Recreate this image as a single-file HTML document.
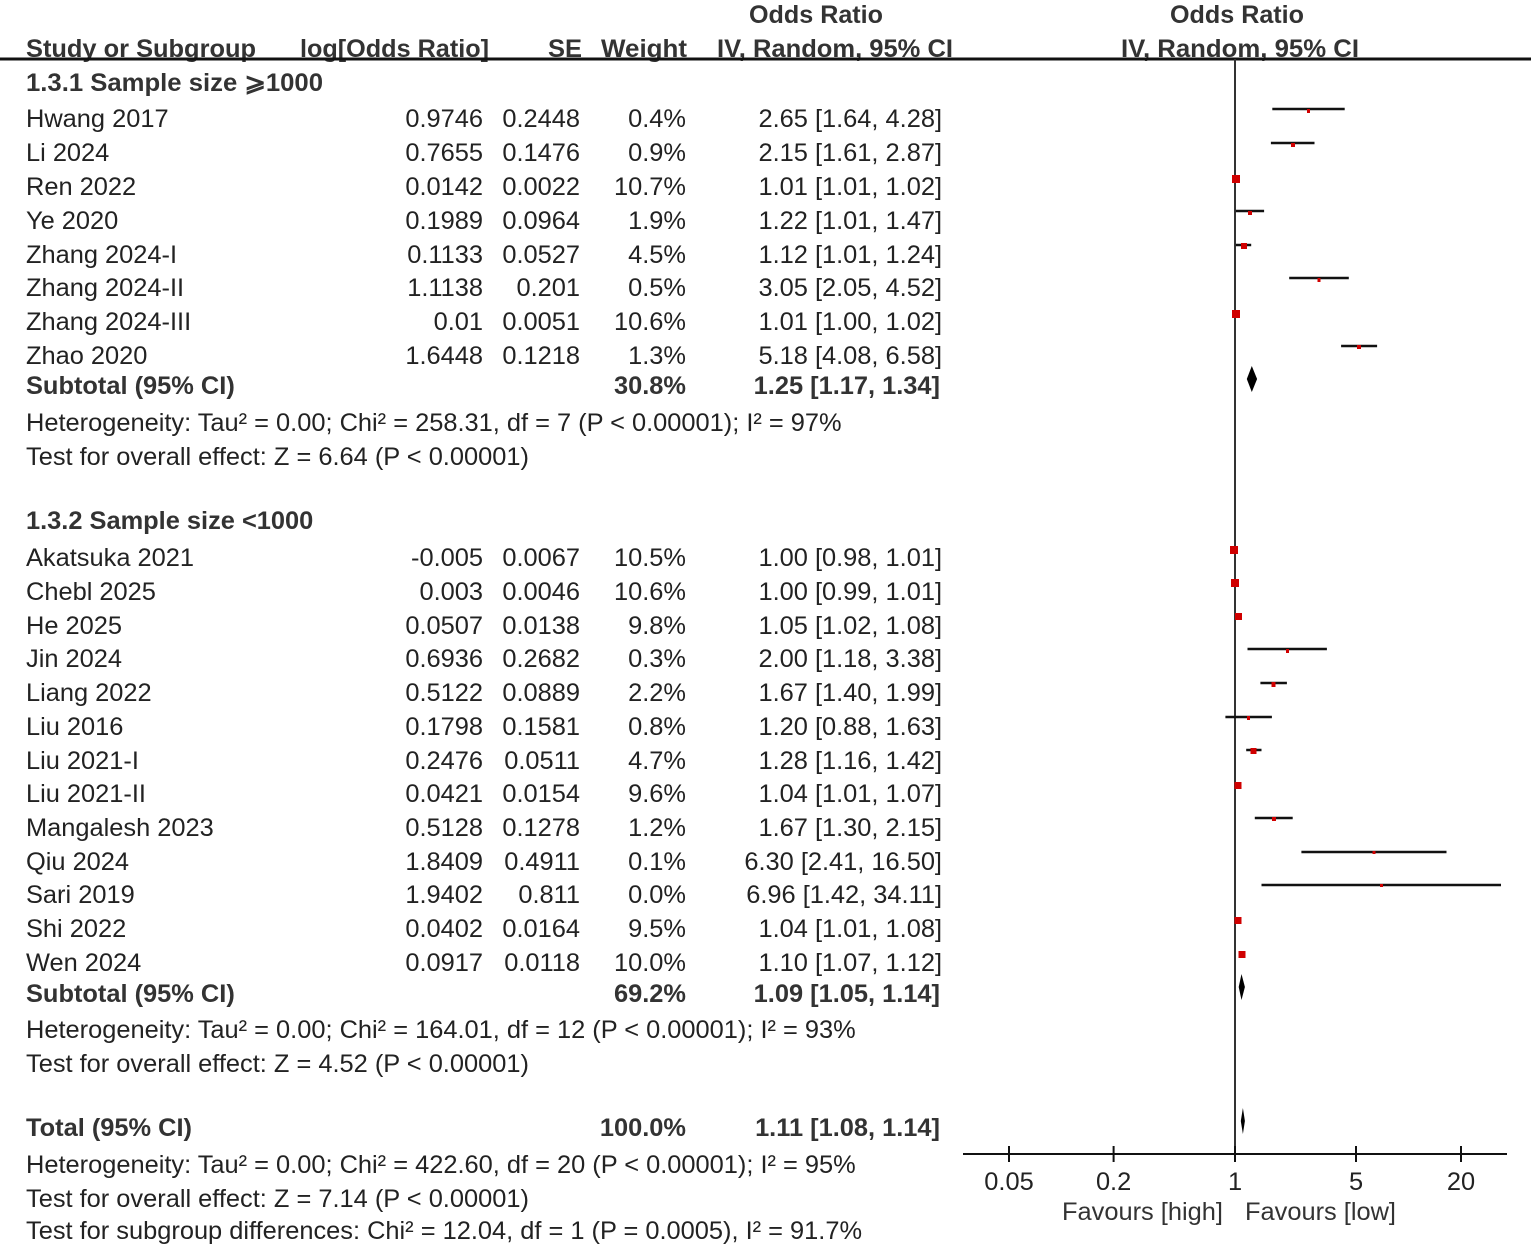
<!DOCTYPE html>
<html><head><meta charset="utf-8"><style>
html,body{margin:0;padding:0;background:#fff}
svg{display:block}
text{font-family:"Liberation Sans",Arial,sans-serif;font-size:25.4px;fill:#222}
.b{font-weight:bold;fill:#333}
.r{text-anchor:end}
.c{text-anchor:middle}
.ci{stroke:#111;stroke-width:2.5}
.m{fill:#d00000}
</style></head><body>
<svg width="1535" height="1244" viewBox="0 0 1535 1244" xmlns="http://www.w3.org/2000/svg">
<!-- header -->
<text class="b c" x="816" y="23" textLength="134" lengthAdjust="spacingAndGlyphs">Odds Ratio</text>
<text class="b c" x="1237" y="23" textLength="134" lengthAdjust="spacingAndGlyphs">Odds Ratio</text>
<text class="b" x="26" y="57" textLength="230" lengthAdjust="spacingAndGlyphs">Study or Subgroup</text>
<text class="b" x="300" y="57" textLength="189" lengthAdjust="spacingAndGlyphs">log[Odds Ratio]</text>
<text class="b" x="548" y="57" textLength="34" lengthAdjust="spacingAndGlyphs">SE</text>
<text class="b" x="601" y="57" textLength="86" lengthAdjust="spacingAndGlyphs">Weight</text>
<text class="b" x="717" y="57" textLength="236" lengthAdjust="spacingAndGlyphs">IV, Random, 95% CI</text>
<text class="b" x="1121" y="57" textLength="238" lengthAdjust="spacingAndGlyphs">IV, Random, 95% CI</text>
<line x1="0" y1="59" x2="1531" y2="59" stroke="#111" stroke-width="3"/>

<line x1="1235" y1="59" x2="1235" y2="1155" stroke="#333" stroke-width="2"/>
<line x1="963" y1="1154" x2="1507" y2="1154" stroke="#111" stroke-width="2"/>
<g stroke="#111" stroke-width="2">
<line x1="1009" y1="1146" x2="1009" y2="1162"/>
<line x1="1113.6" y1="1146" x2="1113.6" y2="1162"/>
<line x1="1235" y1="1146" x2="1235" y2="1162"/>
<line x1="1356" y1="1146" x2="1356" y2="1162"/>
<line x1="1461" y1="1146" x2="1461" y2="1162"/>
</g>
<text class="c" x="1009" y="1190">0.05</text>
<text class="c" x="1113.6" y="1190">0.2</text>
<text class="c" x="1235" y="1190">1</text>
<text class="c" x="1356" y="1190">5</text>
<text class="c" x="1461" y="1190">20</text>
<text x="1062" y="1220" style="fill:#333">Favours [high]</text>
<text x="1245" y="1220" style="fill:#333">Favours [low]</text>

<text class="b" x="26" y="91" textLength="297" lengthAdjust="spacingAndGlyphs">1.3.1 Sample size ⩾1000</text>
<text x="26" y="127">Hwang 2017</text><text class="r" x="483" y="127">0.9746</text><text class="r" x="580" y="127">0.2448</text><text class="r" x="686" y="127">0.4%</text><text class="r" x="942" y="127">2.65 [1.64, 4.28]</text>
<text x="26" y="161">Li 2024</text><text class="r" x="483" y="161">0.7655</text><text class="r" x="580" y="161">0.1476</text><text class="r" x="686" y="161">0.9%</text><text class="r" x="942" y="161">2.15 [1.61, 2.87]</text>
<text x="26" y="195">Ren 2022</text><text class="r" x="483" y="195">0.0142</text><text class="r" x="580" y="195">0.0022</text><text class="r" x="686" y="195">10.7%</text><text class="r" x="942" y="195">1.01 [1.01, 1.02]</text>
<text x="26" y="229">Ye 2020</text><text class="r" x="483" y="229">0.1989</text><text class="r" x="580" y="229">0.0964</text><text class="r" x="686" y="229">1.9%</text><text class="r" x="942" y="229">1.22 [1.01, 1.47]</text>
<text x="26" y="263">Zhang 2024-I</text><text class="r" x="483" y="263">0.1133</text><text class="r" x="580" y="263">0.0527</text><text class="r" x="686" y="263">4.5%</text><text class="r" x="942" y="263">1.12 [1.01, 1.24]</text>
<text x="26" y="296">Zhang 2024-II</text><text class="r" x="483" y="296">1.1138</text><text class="r" x="580" y="296">0.201</text><text class="r" x="686" y="296">0.5%</text><text class="r" x="942" y="296">3.05 [2.05, 4.52]</text>
<text x="26" y="330">Zhang 2024-III</text><text class="r" x="483" y="330">0.01</text><text class="r" x="580" y="330">0.0051</text><text class="r" x="686" y="330">10.6%</text><text class="r" x="942" y="330">1.01 [1.00, 1.02]</text>
<text x="26" y="364">Zhao 2020</text><text class="r" x="483" y="364">1.6448</text><text class="r" x="580" y="364">0.1218</text><text class="r" x="686" y="364">1.3%</text><text class="r" x="942" y="364">5.18 [4.08, 6.58]</text>
<text class="b" x="26" y="394">Subtotal (95% CI)</text><text class="b r" x="686" y="394">30.8%</text><text class="b r" x="940" y="394">1.25 [1.17, 1.34]</text>
<text x="26" y="431">Heterogeneity: Tau² = 0.00; Chi² = 258.31, df = 7 (P &lt; 0.00001); I² = 97%</text>
<text x="26" y="465">Test for overall effect: Z = 6.64 (P &lt; 0.00001)</text>

<text class="b" x="26" y="529">1.3.2 Sample size &lt;1000</text>
<text x="26" y="566">Akatsuka  2021</text><text class="r" x="483" y="566">-0.005</text><text class="r" x="580" y="566">0.0067</text><text class="r" x="686" y="566">10.5%</text><text class="r" x="942" y="566">1.00 [0.98, 1.01]</text>
<text x="26" y="600">Chebl 2025</text><text class="r" x="483" y="600">0.003</text><text class="r" x="580" y="600">0.0046</text><text class="r" x="686" y="600">10.6%</text><text class="r" x="942" y="600">1.00 [0.99, 1.01]</text>
<text x="26" y="634">He 2025</text><text class="r" x="483" y="634">0.0507</text><text class="r" x="580" y="634">0.0138</text><text class="r" x="686" y="634">9.8%</text><text class="r" x="942" y="634">1.05 [1.02, 1.08]</text>
<text x="26" y="667">Jin 2024</text><text class="r" x="483" y="667">0.6936</text><text class="r" x="580" y="667">0.2682</text><text class="r" x="686" y="667">0.3%</text><text class="r" x="942" y="667">2.00 [1.18, 3.38]</text>
<text x="26" y="701">Liang 2022</text><text class="r" x="483" y="701">0.5122</text><text class="r" x="580" y="701">0.0889</text><text class="r" x="686" y="701">2.2%</text><text class="r" x="942" y="701">1.67 [1.40, 1.99]</text>
<text x="26" y="735">Liu 2016</text><text class="r" x="483" y="735">0.1798</text><text class="r" x="580" y="735">0.1581</text><text class="r" x="686" y="735">0.8%</text><text class="r" x="942" y="735">1.20 [0.88, 1.63]</text>
<text x="26" y="769">Liu 2021-I</text><text class="r" x="483" y="769">0.2476</text><text class="r" x="580" y="769">0.0511</text><text class="r" x="686" y="769">4.7%</text><text class="r" x="942" y="769">1.28 [1.16, 1.42]</text>
<text x="26" y="802">Liu 2021-II</text><text class="r" x="483" y="802">0.0421</text><text class="r" x="580" y="802">0.0154</text><text class="r" x="686" y="802">9.6%</text><text class="r" x="942" y="802">1.04 [1.01, 1.07]</text>
<text x="26" y="836">Mangalesh 2023</text><text class="r" x="483" y="836">0.5128</text><text class="r" x="580" y="836">0.1278</text><text class="r" x="686" y="836">1.2%</text><text class="r" x="942" y="836">1.67 [1.30, 2.15]</text>
<text x="26" y="870">Qiu 2024</text><text class="r" x="483" y="870">1.8409</text><text class="r" x="580" y="870">0.4911</text><text class="r" x="686" y="870">0.1%</text><text class="r" x="942" y="870">6.30 [2.41, 16.50]</text>
<text x="26" y="903">Sari 2019</text><text class="r" x="483" y="903">1.9402</text><text class="r" x="580" y="903">0.811</text><text class="r" x="686" y="903">0.0%</text><text class="r" x="942" y="903">6.96 [1.42, 34.11]</text>
<text x="26" y="937">Shi 2022</text><text class="r" x="483" y="937">0.0402</text><text class="r" x="580" y="937">0.0164</text><text class="r" x="686" y="937">9.5%</text><text class="r" x="942" y="937">1.04 [1.01, 1.08]</text>
<text x="26" y="971">Wen 2024</text><text class="r" x="483" y="971">0.0917</text><text class="r" x="580" y="971">0.0118</text><text class="r" x="686" y="971">10.0%</text><text class="r" x="942" y="971">1.10 [1.07, 1.12]</text>
<text class="b" x="26" y="1002">Subtotal (95% CI)</text><text class="b r" x="686" y="1002">69.2%</text><text class="b r" x="940" y="1002">1.09 [1.05, 1.14]</text>
<text x="26" y="1038">Heterogeneity: Tau² = 0.00; Chi² = 164.01, df = 12 (P &lt; 0.00001); I² = 93%</text>
<text x="26" y="1072">Test for overall effect: Z = 4.52 (P &lt; 0.00001)</text>

<text class="b" x="26" y="1136">Total (95% CI)</text><text class="b r" x="686" y="1136">100.0%</text><text class="b r" x="940" y="1136">1.11 [1.08, 1.14]</text>
<text x="26" y="1173">Heterogeneity: Tau² = 0.00; Chi² = 422.60, df = 20 (P &lt; 0.00001); I² = 95%</text>
<text x="26" y="1207">Test for overall effect: Z = 7.14 (P &lt; 0.00001)</text>
<text x="26" y="1239">Test for subgroup differences: Chi² = 12.04, df = 1 (P = 0.0005), I² = 91.7%</text>

<g class="ci">
<line x1="1272.3" y1="109" x2="1344.7" y2="109"/>
<line x1="1270.9" y1="143" x2="1314.5" y2="143"/>
<line x1="1235.8" y1="211" x2="1264.1" y2="211"/>
<line x1="1235.8" y1="245" x2="1251.2" y2="245"/>
<line x1="1289.2" y1="278" x2="1348.8" y2="278"/>
<line x1="1341.1" y1="346" x2="1377.1" y2="346"/>
<line x1="1247.5" y1="649" x2="1326.9" y2="649"/>
<line x1="1260.4" y1="683" x2="1286.9" y2="683"/>
<line x1="1225.4" y1="717" x2="1271.9" y2="717"/>
<line x1="1246.2" y1="750" x2="1261.5" y2="750"/>
<line x1="1254.8" y1="818" x2="1292.7" y2="818"/>
<line x1="1301.4" y1="852" x2="1446.5" y2="852"/>
<line x1="1261.5" y1="885" x2="1501" y2="885"/>
</g>
<g class="m">
<rect x="1307" y="109" width="3" height="4"/>
<rect x="1291" y="143" width="4" height="4"/>
<rect x="1232" y="175" width="8" height="8"/>
<rect x="1248" y="211" width="4" height="4"/>
<rect x="1241" y="243" width="6" height="6"/>
<rect x="1317.5" y="278" width="3" height="4"/>
<rect x="1232" y="310" width="8" height="8"/>
<rect x="1357" y="345" width="4" height="4"/>
<rect x="1230" y="546" width="8" height="8"/>
<rect x="1231" y="579" width="8" height="8"/>
<rect x="1235" y="613" width="7" height="7"/>
<rect x="1286" y="649" width="3" height="4"/>
<rect x="1271.5" y="682" width="4" height="5"/>
<rect x="1247" y="716" width="3" height="4"/>
<rect x="1250.5" y="748" width="6" height="6"/>
<rect x="1234.5" y="782" width="7" height="7"/>
<rect x="1272" y="817" width="4" height="4"/>
<rect x="1372.5" y="851" width="3" height="3"/>
<rect x="1380" y="884" width="3" height="3"/>
<rect x="1234.5" y="917" width="7" height="7"/>
<rect x="1238.5" y="951" width="7" height="7"/>
</g>
<polygon points="1246.8,379 1251.8,366 1257.1,379 1251.8,392" fill="#000"/>
<polygon points="1238.7,987 1241.5,974 1244.9,987 1241.5,1000" fill="#000"/>
<polygon points="1240.8,1121 1242.9,1108 1244.9,1121 1242.9,1134" fill="#000"/>
</svg>
</body></html>
